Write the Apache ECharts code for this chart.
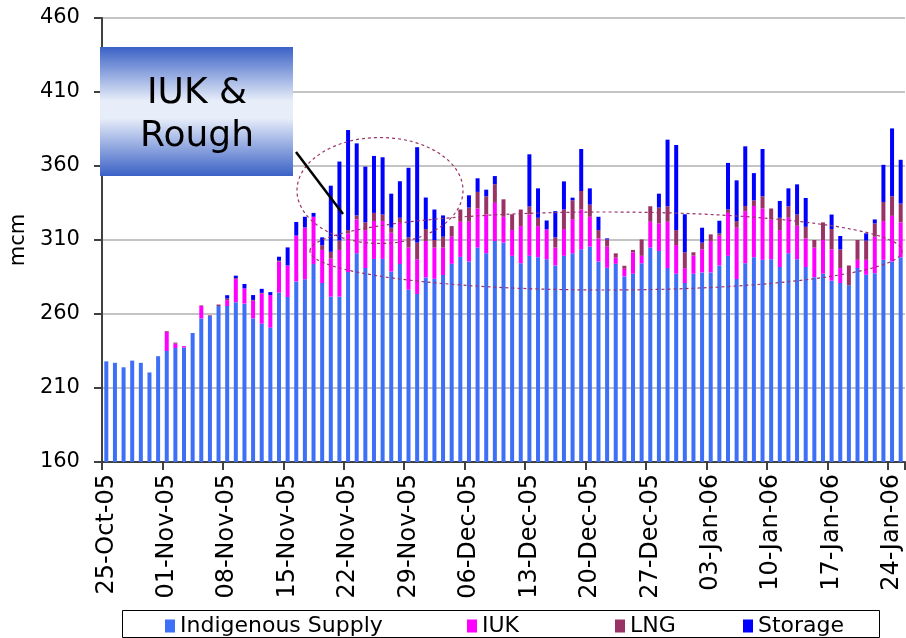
<!DOCTYPE html>
<html>
<head>
<meta charset="utf-8">
<script src="https://cdn.jsdelivr.net/npm/echarts@6/dist/echarts.min.js"></script>
<style>
html,body{margin:0;padding:0;background:#fff;}
#main{width:906px;height:638px;}
</style>
</head>
<body>
<div id="main"></div>
<script>
// daily supply, 25-Oct-05 .. 25-Jan-06 (mcm)
var startDay = new Date(2005, 9, 25);
var dayCount = 93;
var monthNames = ['Jan','Feb','Mar','Apr','May','Jun','Jul','Aug','Sep','Oct','Nov','Dec'];

var indigenous = [228,227,224,228.5,227,220.5,231.5,235,237,237.3,
	247.2,257,258.6,265.4,265.4,268,267,257,253.5,250.8,
	274.4,271.5,282,283.5,293.7,280.9,271.7,271.7,288.3,301,
	291,297.2,297.2,288.7,293.7,276.4,273.5,284.7,283.8,286.3,
	293.9,298.6,295.5,304.9,301,309.3,308.2,299.3,294.3,299.3,
	298.4,297,292.8,299.3,301,303.7,305.5,295.5,291.2,293.9,
	285.4,287.2,294.3,304.9,302.6,291,287.2,280.9,287.2,288.1,
	288.1,292.8,299.3,283.6,294.3,298.4,296.6,297,291.7,301,
	297,291.7,284.9,287.2,282.5,280.9,279.4,291,286.5,287.6,
	296.6,295.5,298.4];
var iuk = [0,0,0,0,0,0,0,13,3,1,
	0,8.4,0,0,4,15.6,10.3,12,20.3,22,
	21,21.3,31,34.8,32,22.4,25.8,31.6,26.2,22.9,
	25.7,25.6,25.6,26.2,28.4,28.5,23.5,24.6,21.1,18.6,
	18.3,23.7,26.8,26.4,26.2,25.8,17.5,17.4,25.1,27.9,
	21,20.2,12.1,18.1,23.1,26.9,20.2,15.6,14.3,4.2,
	5.1,14.5,5,17.4,18.6,31.3,19.4,10.1,12.3,15.6,
	21.2,20.1,29,34.7,35.2,34.6,34.7,26.9,25,24,
	22.6,19.4,20,22.8,21.2,10.1,0,5.6,10.1,24.6,
	26.2,30.8,23.5];
var lng = [0,0,0,0,0,0,0,0.5,0.7,0,
	0,0.4,0.5,1,1,0.6,0,0.5,0.5,0,
	0.6,0,0,0.2,0,3.1,4.5,6.3,2.2,2.7,
	5.3,5.5,4.4,3.4,2.9,6.9,11.2,8.1,5.1,7.3,
	7.2,8.3,9.6,11.2,12.3,12.6,11.8,10.7,11.2,5.4,
	5.6,0,6.9,13.2,12.7,12.5,8.2,5.6,4.9,2.9,
	2.1,1.6,11.1,10.5,10.7,10.5,10.1,10.7,2.2,4.5,
	4.5,1.6,2.3,4.5,3.5,3.8,8.2,7.4,8.3,7.8,
	7.6,7.8,5.1,11.9,13.7,12.7,13.4,13.4,13,9,
	12.9,13.2,12.7];
var storage = [0,0,0,0,0,0,0,0,0,0,
	0,0,0,0,2.3,1.7,3,3.3,2.7,2,
	2.7,12.2,9.2,7.2,2.6,5.4,44.7,53.4,67.6,48.7,
	37.6,38.5,38.7,23,24.7,47,64.5,21.3,20.6,14.4,
	0,0,8.3,9.2,4.5,5.5,0,0,0,35.3,
	19.9,6,17.7,19,1.8,28.4,11,9,0.7,0,
	0,0,0,0,9.4,45,57.5,25.7,0,10.1,
	0,8.5,31.5,27.5,40.3,18.4,32,0,11.4,12.1,
	20.4,19.5,0,0,9.8,9,0,0,4.9,2.7,
	25.1,45.9,29.6];

var seriesNames = ['Indigenous Supply','IUK','LNG','Storage'];
var seriesColors = ['#3d6ff7','#ff00ff','#993366','#0000ff'];

//日期标签
function pad2(n){ return n<10 ? '0'+n : ''+n; }
var days = [];
for(var i=0;i<dayCount;i++){
	var d = new Date(startDay.getFullYear(), startDay.getMonth(), startDay.getDate()+i);
	days.push(pad2(d.getDate())+'-'+monthNames[d.getMonth()]+'-'+pad2(d.getFullYear()%100));
}

var chartDom = document.getElementById('main');
var myChart = echarts.init(chartDom);
var font = 'DejaVu Sans';

var seriesData = [indigenous, iuk, lng, storage];
var series = [];
for(var s=0;s<seriesNames.length;s++){
	series.push({
		name: seriesNames[s],
		type: 'bar',
		stack: 'supply',
		barWidth: 4,
		itemStyle: {color: seriesColors[s]},
		data: seriesData[s]
	});
}

// 图例分开放，位置跟原图对齐
var legendLeft = [160, 462, 610, 738];
var legends = [];
for(var k=0;k<seriesNames.length;k++){
	legends.push({
		data: [seriesNames[k]],
		left: legendLeft[k],
		top: 610,
		itemWidth: 10,
		itemHeight: 13,
		itemGap: 6,
		icon: 'rect',
		textStyle: {fontFamily: font, fontSize: 22, color: '#000'}
	});
}

var option = {
	animation: false,
	backgroundColor: '#fff',
	grid: {left: 100, right: 1, top: 18, bottom: 176},
	legend: legends,
	xAxis: {
		type: 'category',
		data: days,
		axisLine: {lineStyle: {color: '#404040', width: 2}},
		axisTick: {show: true, interval: 6, length: 8, lineStyle: {color: '#404040', width: 2}},
		axisLabel: {interval: 6, rotate: 90, margin: 12, color: '#000', fontFamily: font, fontSize: 24}
	},
	yAxis: {
		type: 'value',
		min: 160,
		max: 460,
		interval: 50,
		name: 'mcm',
		nameLocation: 'middle',
		nameGap: 66,
		nameTextStyle: {fontFamily: font, fontSize: 21, color: '#000'},
		axisLine: {show: true, lineStyle: {color: '#404040', width: 2}},
		axisTick: {show: true, length: 8, lineStyle: {color: '#404040', width: 2}},
		axisLabel: {margin: 22, color: '#000', fontFamily: font, fontSize: 21},
		splitLine: {lineStyle: {color: '#c4c4c4', width: 2}}
	},
	series: series,
	graphic: [
		{
			type: 'rect',
			shape: {x: 122.5, y: 610.5, width: 757, height: 27},
			style: {fill: 'none', stroke: '#000', lineWidth: 1},
			z: 100
		},
		{
			type: 'rect',
			shape: {x: 100, y: 47, width: 193, height: 129},
			style: {
				fill: new echarts.graphic.LinearGradient(0, 0, 0, 1, [
					{offset: 0, color: '#3a61c6'},
					{offset: 0.42, color: '#e8eef9'},
					{offset: 0.55, color: '#e8eef9'},
					{offset: 1, color: '#3a61c6'}
				])
			},
			z: 100
		},
		{
			type: 'text',
			left: 197 - 60,
			top: 72,
			style: {
				text: 'IUK &\nRough',
				width: 120,
				textAlign: 'center',
				fontFamily: font,
				fontSize: 36,
				lineHeight: 43,
				fill: '#000'
			},
			z: 101
		},
		{
			type: 'line',
			shape: {x1: 296, y1: 152, x2: 343, y2: 214},
			style: {stroke: '#000', lineWidth: 2.5},
			z: 101
		},
		{
			type: 'ellipse',
			shape: {cx: 380, cy: 190.5, rx: 83, ry: 53},
			style: {fill: 'none', stroke: '#993366', lineWidth: 1.2, lineDash: [3, 3]},
			z: 100
		},
		{
			type: 'ellipse',
			shape: {cx: 606, cy: 251, rx: 296, ry: 39},
			style: {fill: 'none', stroke: '#993366', lineWidth: 1.2, lineDash: [3, 3]},
			z: 100
		}
	]
};
myChart.setOption(option);
</script>
</body>
</html>
